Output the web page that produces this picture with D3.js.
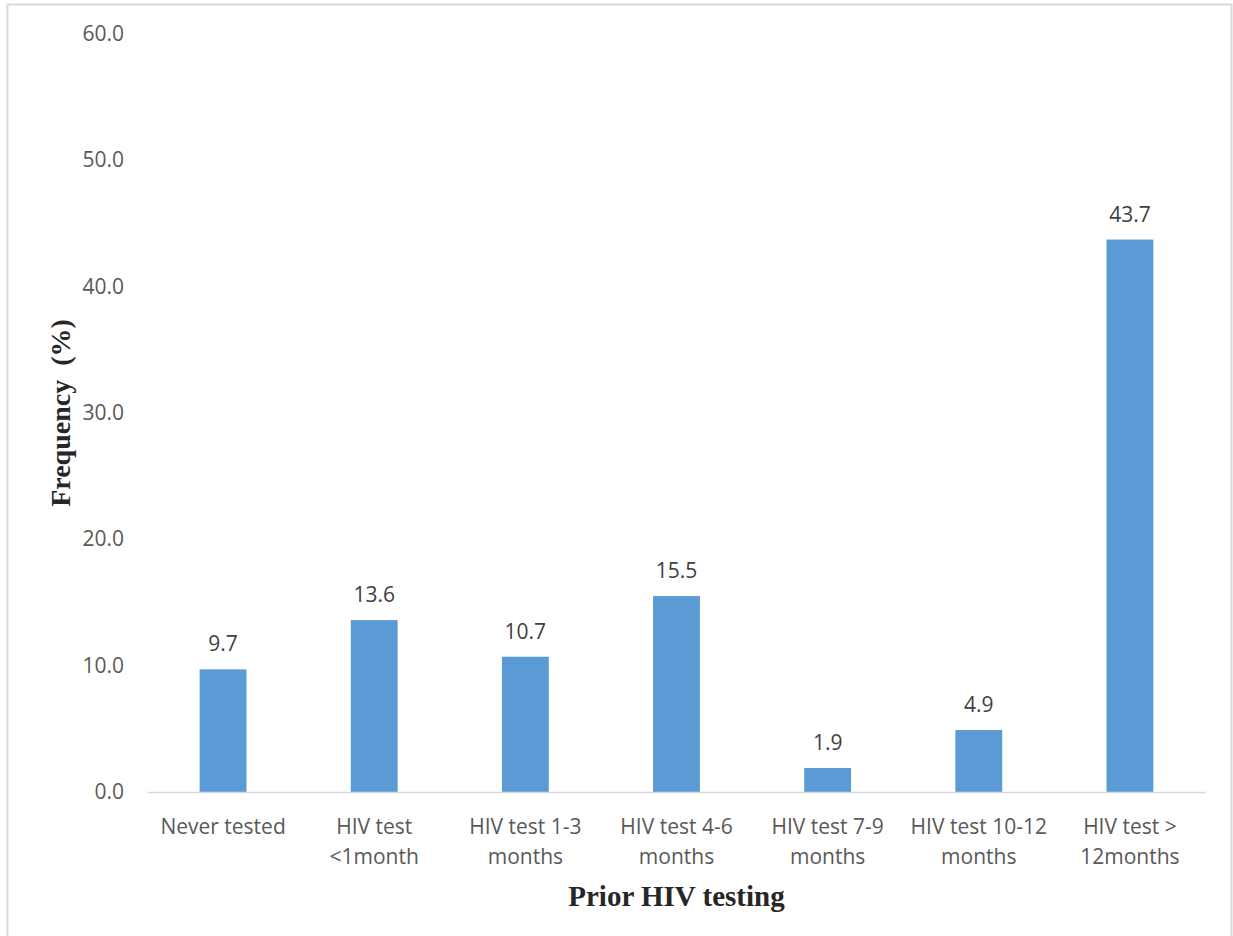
<!DOCTYPE html>
<html>
<head>
<meta charset="utf-8">
<script src="https://cdn.jsdelivr.net/npm/d3@7"></script>
<style>
  body { margin: 0; background: #fff; }
  svg { display: block; }
</style>
</head>
<body>
<div class="draw"></div>
<script>
// data
var categories = ['Never tested', 'HIV test <1month', 'HIV test 1-3 months', 'HIV test 4-6 months',
                  'HIV test 7-9 months', 'HIV test 10-12 months', 'HIV test > 12months'];
var labelLines = [['Never tested'], ['HIV test', '<1month'], ['HIV test 1-3', 'months'], ['HIV test 4-6', 'months'],
                  ['HIV test 7-9', 'months'], ['HIV test 10-12', 'months'], ['HIV test >', '12months']];
var values = [9.7, 13.6, 10.7, 15.5, 1.9, 4.9, 43.7];
var yTicks = [0, 10, 20, 30, 40, 50, 60];

var width = 1233, height = 936;
var plotL = 147.5, plotR = 1205.5, plotT = 33.5, plotB = 792;
var tickFont = "'Open Sans', 'Noto Sans', sans-serif";

var svg = d3.select(".draw").append("svg")
    .attr("width", width)
    .attr("height", height);

// outer chart border
svg.append("rect")
    .attr("x", 7.5).attr("y", 4.5)
    .attr("width", 1224).attr("height", 1000)
    .attr("fill", "none")
    .attr("stroke", "#d9d9d9")
    .attr("stroke-width", 2);

var x = d3.scaleBand()
    .domain(categories)
    .range([plotL, plotR])
    .paddingInner(0.69)
    .paddingOuter(0.345);

var y = d3.scaleLinear()
    .domain([0, 60])
    .range([plotB, plotT]);

// bars
svg.selectAll(".bar")
    .data(values)
    .enter().append("rect")
    .attr("class", "bar")
    .attr("x", function (d, i) { return x(categories[i]); })
    .attr("y", function (d) { return y(d); })
    .attr("width", x.bandwidth())
    .attr("height", function (d) { return y(0) - y(d); })
    .attr("fill", "#5b9bd5");

// x axis line
svg.append("line")
    .attr("x1", plotL).attr("x2", plotR)
    .attr("y1", y(0) + 0.5).attr("y2", y(0) + 0.5)
    .attr("stroke", "#d9d9d9")
    .attr("stroke-width", 1.5);

// y axis (labels only)
var yaxis = d3.axisLeft(y)
    .tickValues(yTicks)
    .tickSize(0)
    .tickPadding(0)
    .tickFormat(d3.format(".1f"));

var gy = svg.append("g")
    .attr("transform", "translate(124,0)")
    .call(yaxis);
gy.select(".domain").remove();
gy.selectAll("text")
    .attr("fill", "#595959")
    .style("font-family", tickFont)
    .style("font-size", "21px");

// category labels
var cat = svg.selectAll(".cat")
    .data(labelLines)
    .enter().append("text")
    .attr("class", "cat")
    .attr("text-anchor", "middle")
    .attr("fill", "#595959")
    .style("font-family", tickFont)
    .style("font-size", "21px");
cat.each(function (lines, i) {
    var t = d3.select(this);
    var cx = x(categories[i]) + x.bandwidth() / 2;
    lines.forEach(function (s, j) {
        t.append("tspan")
            .attr("x", cx)
            .attr("y", 834 + j * 30)
            .text(s);
    });
});

// value labels
svg.selectAll(".val")
    .data(values)
    .enter().append("text")
    .attr("class", "val")
    .attr("x", function (d, i) { return x(categories[i]) + x.bandwidth() / 2; })
    .attr("y", function (d) { return y(d) - 18; })
    .attr("text-anchor", "middle")
    .attr("fill", "#404040")
    .style("font-family", tickFont)
    .style("font-size", "21px")
    .text(function (d) { return d3.format(".1f")(d); });

// axis titles
svg.append("text")
    .attr("x", (plotL + plotR) / 2)
    .attr("y", 906)
    .attr("text-anchor", "middle")
    .attr("fill", "#262626")
    .style("font-family", "'Liberation Serif', 'DejaVu Serif', serif")
    .style("font-weight", "bold")
    .style("font-size", "29px")
    .text("Prior HIV testing");

svg.append("text")
    .attr("transform", "translate(70,413) rotate(-90)")
    .attr("text-anchor", "middle")
    .attr("fill", "#262626")
    .style("font-family", "'Liberation Serif', 'DejaVu Serif', serif")
    .style("font-weight", "bold")
    .style("font-size", "28px")
    .text("Frequency\u00a0\u00a0(%)");
</script>
</body>
</html>
